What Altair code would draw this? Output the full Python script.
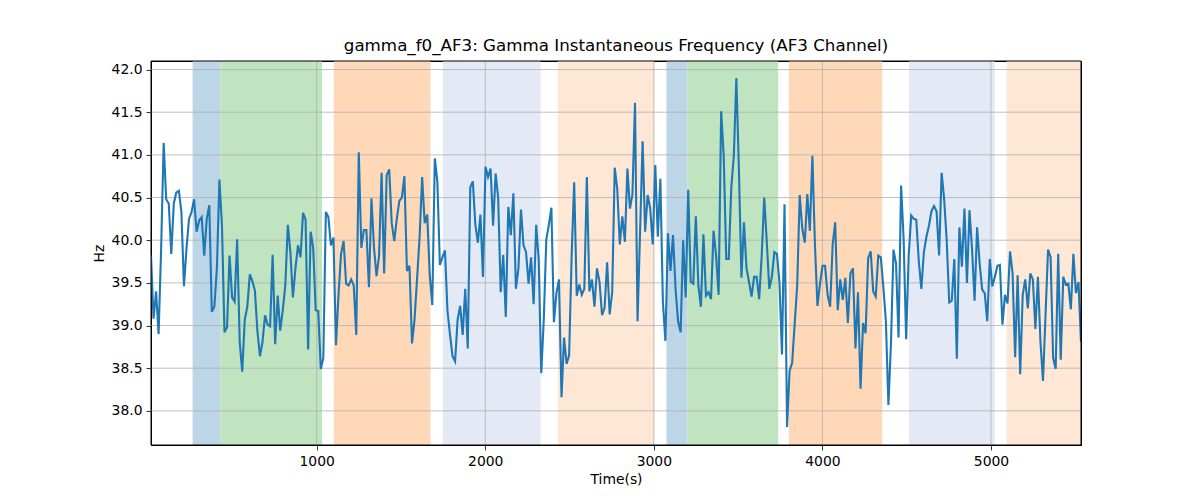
import altair as alt
import pandas as pd
import numpy as np

# ---- line values (Hz), read left to right ----
seg1 = [39.82, 39.08, 39.40, 38.90, 39.90, 41.14, 40.48, 40.43, 39.84, 40.43,
        40.56, 40.58, 40.33, 39.46, 39.90, 40.25, 40.33, 40.48, 40.10, 40.23,
        40.27, 39.82, 40.25, 40.41, 39.16, 39.22, 39.67, 40.71, 40.17, 38.92,
        38.98, 39.82, 39.33, 39.28, 40.01, 38.81, 38.46, 39.07, 39.22, 39.60,
        39.52, 39.41, 38.93, 38.64, 38.81, 39.12, 39.01, 38.99, 39.83, 38.78,
        39.35, 38.94, 39.18, 39.47, 40.18, 39.86, 39.33, 39.67, 39.94]
seg2 = [39.80, 40.32, 40.24, 38.72, 40.10, 39.91, 39.18, 39.17, 38.49, 38.62,
        40.33, 40.27, 39.94, 40.03, 38.77, 39.36, 39.84, 39.99, 39.49, 39.47,
        39.54, 39.47, 38.89, 41.03, 39.91, 40.12, 40.12, 39.45, 40.49, 39.91,
        39.58, 39.82, 40.79, 39.61, 40.76, 40.83, 40.20, 39.99, 40.25, 40.46,
        40.50, 40.75, 39.64, 39.70, 38.79, 39.07, 39.55, 40.04, 40.74, 40.20,
        40.30, 39.59, 39.24, 40.96, 40.69, 39.71, 39.80, 39.88, 39.17, 38.89,
        38.64, 38.58]
seg3 = [39.07, 39.23, 38.89, 39.43, 38.73, 40.62, 40.69, 40.18, 39.97, 40.30,
        39.57, 40.86, 40.74, 40.84, 40.17, 40.78, 40.50, 39.39, 39.83, 39.10,
        40.39, 40.06, 40.55, 39.43, 39.67, 40.36, 39.94, 39.86, 39.49, 39.80,
        39.25, 40.18, 39.77, 38.44, 39.07, 40.01, 40.18, 40.38, 39.04, 39.38,
        39.54, 38.16, 38.86, 38.55, 38.65, 39.82, 40.68, 39.35, 39.48, 39.36,
        39.43, 40.74, 39.40, 39.54, 39.22, 39.67, 39.51, 39.12, 39.21, 39.74,
        39.13]
seg4 = [39.39, 40.85, 40.60, 39.95, 40.28, 39.98, 40.84, 40.37, 40.54, 41.61,
        39.05, 40.10, 41.16, 40.10, 40.53, 40.37, 39.95, 40.88, 40.04, 40.72,
        39.28, 38.82, 40.08, 39.64, 40.06, 39.43, 39.05, 38.92, 40.00, 39.33,
        40.59, 39.51, 39.49, 40.28, 39.47, 39.22, 40.07, 39.35, 39.39, 39.31,
        40.11, 39.82, 39.36, 41.51, 40.99, 39.78, 39.78, 40.62, 40.99, 41.90,
        40.83, 39.56, 40.21, 39.67, 39.51, 39.34, 39.57, 39.57, 39.31, 39.82,
        40.50]
seg5 = [39.98, 39.43, 39.57, 39.86, 39.84, 39.51, 38.66, 40.42, 37.81, 38.47,
        38.56, 39.01, 39.47, 40.53, 40.14, 39.97, 40.54, 40.11, 40.99, 39.95,
        39.23, 39.49, 39.70, 39.70, 39.36, 39.22, 39.95, 40.21, 39.18, 39.54,
        39.30, 39.56, 39.03, 39.61, 39.67, 38.73, 39.39, 38.26, 39.03, 38.91,
        39.79, 39.87, 39.40, 39.34, 39.82, 39.80, 39.45, 39.05, 38.07, 38.78,
        39.89, 39.73, 38.86, 40.64, 40.02, 38.84, 39.82, 40.29, 40.25, 40.24,
        39.75]
seg6 = [39.43, 39.86, 40.04, 40.17, 40.34, 40.40, 40.34, 39.82, 40.79, 40.48,
        40.00, 39.27, 39.29, 39.78, 38.61, 40.15, 39.69, 40.37, 39.50, 40.35,
        39.90, 39.29, 40.15, 39.73, 39.42, 39.38, 39.05, 39.78, 39.46, 39.57,
        39.70, 39.71, 39.01, 39.36, 39.26, 39.87, 39.61, 38.63, 39.59, 38.43,
        39.36, 39.54, 39.20, 39.61, 39.54, 38.96, 39.57, 38.81, 38.35, 39.12,
        39.89, 39.80, 38.62, 38.49, 39.84, 38.60, 39.57, 39.48, 39.49, 39.19,
        39.84, 39.38, 39.51, 38.81]

freq = seg1 + seg2 + seg3 + seg4 + seg5 + seg6
t_first, t_last = 17.0, 5534.0          # uniformly sampled time grid
time = np.linspace(t_first, t_last, len(freq))

# ---- shaded condition bands ----
band_start = [264, 430, 1101, 1748, 2430, 3075, 3198, 3801, 4513, 5093]
band_end   = [430, 1032, 1675, 2328, 3002, 3198, 3738, 4355, 5022, 5534]
band_color = ["#bcd6e8", "#c0e3c0", "#ffd9b7", "#e3eaf5", "#fee8d5",
              "#bcd6e8", "#c0e3c0", "#ffd9b7", "#e3eaf5", "#fee8d5"]

x_ticks = [1000, 2000, 3000, 4000, 5000]
y_ticks = [38.0, 38.5, 39.0, 39.5, 40.0, 40.5, 41.0, 41.5, 42.0]

W, H = 930, 384

line_df = pd.DataFrame({"time": time, "freq": freq})
band_df = pd.DataFrame({"start": band_start, "end": band_end, "color": band_color})
xg_df = pd.DataFrame({"v": x_ticks})
yg_df = pd.DataFrame({"v": y_ticks})

xscale = alt.Scale(domain=[t_first, t_last], nice=False, zero=False)
yscale = alt.Scale(domain=[37.6, 42.1], nice=False, zero=False)
xaxis = alt.Axis(values=x_ticks, format="d", title="Time(s)", grid=False)
yaxis = alt.Axis(values=y_ticks, format=".1f", title="Hz", grid=False)

bands = alt.Chart(band_df).mark_rect(clip=True).encode(
    x=alt.X("start:Q", scale=xscale, axis=xaxis),
    x2="end:Q",
    color=alt.Color("color:N", scale=None),
)

xgrid = alt.Chart(xg_df).mark_rule(color="#b0b0b0", strokeWidth=0.8).encode(
    x=alt.X("v:Q", scale=xscale, axis=xaxis)
)
ygrid = alt.Chart(yg_df).mark_rule(color="#b0b0b0", strokeWidth=0.8).encode(
    y=alt.Y("v:Q", scale=yscale, axis=yaxis)
)

line = alt.Chart(line_df).mark_line(color="#1f77b4", strokeWidth=2.1, clip=True).encode(
    x=alt.X("time:Q", scale=xscale, axis=xaxis),
    y=alt.Y("freq:Q", scale=yscale, axis=yaxis),
)

# black frame around the plot area (matplotlib spines)
frame = alt.Chart(pd.DataFrame({"k": [0]})).mark_rect(
    fillOpacity=0, stroke="black", strokeWidth=1
).encode(x=alt.value(0), x2=alt.value(W), y=alt.value(0), y2=alt.value(H))

chart = alt.layer(bands, xgrid, ygrid, line, frame).properties(
    width=W,
    height=H,
    autosize=alt.AutoSizeParams(type="none"),
    padding={"left": 143, "top": 53, "right": 100, "bottom": 46},
    title=alt.TitleParams(
        "gamma_f0_AF3: Gamma Instantaneous Frequency (AF3 Channel)",
        fontSize=16.7, font="DejaVu Sans", fontWeight="normal",
        color="black", anchor="middle", offset=6,
    ),
).configure_view(
    stroke="black", strokeWidth=1
).configure_axis(
    domainColor="black", tickColor="black", tickSize=5, tickWidth=0.8,
    labelColor="black", titleColor="black",
    labelFont="DejaVu Sans", titleFont="DejaVu Sans",
    labelFontSize=13.9, titleFontSize=13.9, titleFontWeight="normal",
    labelPadding=4, titlePadding=5, domainWidth=1,
)

chart.save("out.html", embed_options={"renderer": "svg", "actions": False})
